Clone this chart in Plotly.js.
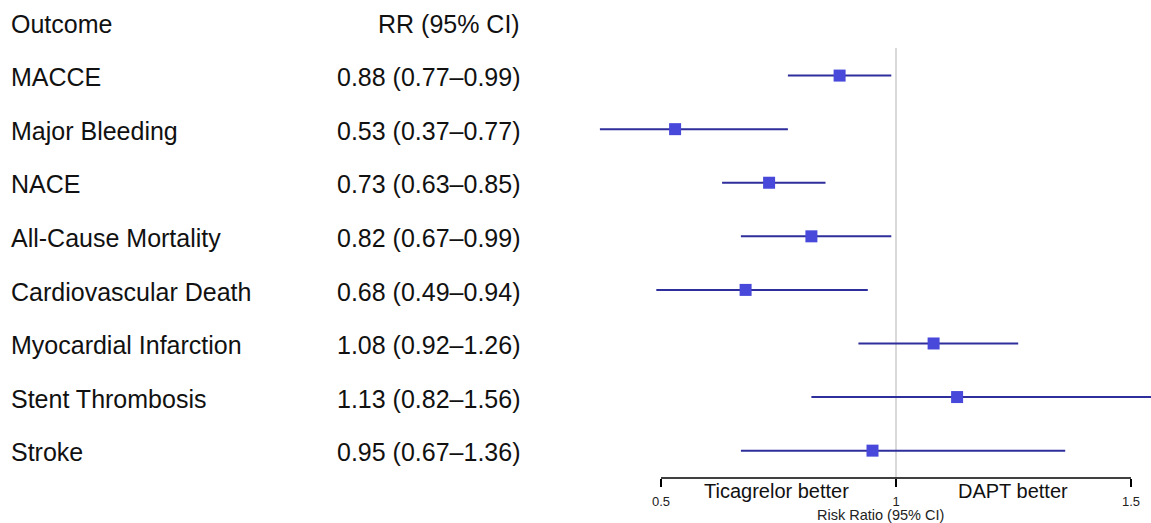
<!DOCTYPE html>
<html>
<head>
<meta charset="utf-8">
<script src="https://cdn.plot.ly/plotly-3.0.1.min.js"></script>
<style>html,body{margin:0;padding:0;background:#fff;}#chart{width:1151px;height:523px;}</style>
</head>
<body>
<div id="chart"></div>
<script>
const outcomes = ['MACCE','Major Bleeding','NACE','All-Cause Mortality','Cardiovascular Death','Myocardial Infarction','Stent Thrombosis','Stroke'];
const rr = [0.88,0.53,0.73,0.82,0.68,1.08,1.13,0.95];
const lo = [0.77,0.37,0.63,0.67,0.49,0.92,0.82,0.67];
const hi = [0.99,0.77,0.85,0.99,0.94,1.26,1.56,1.36];
const tickVals = [0.5,1,1.5];
const tickText = ['0.5','1','1.5'];
const headerLeft = 'Outcome';
const headerRight = 'RR (95% CI)';
const leftLabel = 'Ticagrelor better';
const rightLabel = 'DAPT better';
const axisTitle = 'Risk Ratio (95% CI)';

const FONT = 'Liberation Sans, Arial, Helvetica, sans-serif';
const W = 1151, H = 523, B = 45;
const plotH = H - B;
const rowTop = 22, rowGap = 53.58;
const rows = outcomes.map((_, i) => i + 1);
const fmt = v => v.toFixed(2);
const rrText = rr.map((v, i) => fmt(v) + ' (' + fmt(lo[i]) + '\u2013' + fmt(hi[i]) + ')');

const trace = {
  type: 'scatter', mode: 'markers',
  x: rr, y: rows,
  marker: {symbol: 'square', size: 12, color: '#4848da', line: {width: 0}},
  error_x: {
    type: 'data', symmetric: false,
    array: hi.map((v, i) => v - rr[i]),
    arrayminus: lo.map((v, i) => rr[i] - v),
    width: 0, thickness: 2, color: '#2e2e9c'
  },
  hoverinfo: 'skip', showlegend: false
};

const ann = [];
const txt = {family: FONT, size: 25, color: '#111'};
const ty = 0.03;
ann.push({xref: 'paper', yref: 'y', x: 9 / W, y: 0 + ty, text: headerLeft, showarrow: false, xanchor: 'left', yanchor: 'middle', font: txt});
ann.push({xref: 'paper', yref: 'y', x: 522 / W, y: 0 + ty, text: headerRight, showarrow: false, xanchor: 'right', yanchor: 'middle', font: txt});
outcomes.forEach((o, i) => {
  ann.push({xref: 'paper', yref: 'y', x: 9 / W, y: rows[i] + ty, text: o, showarrow: false, xanchor: 'left', yanchor: 'middle', font: txt});
  ann.push({xref: 'paper', yref: 'y', x: 522 / W, y: rows[i] + ty, text: rrText[i], showarrow: false, xanchor: 'right', yanchor: 'middle', font: txt});
});
ann.push({xref: 'x', yref: 'paper', x: 0.745, y: -(491 - plotH) / plotH, text: leftLabel, showarrow: false, xanchor: 'center', yanchor: 'middle', font: {family: FONT, size: 20, color: '#111'}});
ann.push({xref: 'x', yref: 'paper', x: 1.249, y: -(491 - plotH) / plotH, text: rightLabel, showarrow: false, xanchor: 'center', yanchor: 'middle', font: {family: FONT, size: 20, color: '#111'}});
ann.push({xref: 'x', yref: 'paper', x: 0.966, y: -(515 - plotH) / plotH, text: axisTitle, showarrow: false, xanchor: 'center', yanchor: 'middle', font: {family: FONT, size: 14.5, color: '#222'}});

const yBottom = (plotH - rowTop) / rowGap;
const yTop = -rowTop / rowGap;

const layout = {
  width: W, height: H,
  margin: {l: 0, r: 0, t: 0, b: B, pad: 0},
  paper_bgcolor: '#fff', plot_bgcolor: '#fff',
  font: {family: FONT},
  xaxis: {
    range: [0.5 - 661 / 470, 0.5 + (W - 661) / 470],
    tickvals: tickVals, ticktext: tickText,
    ticks: 'outside', ticklen: 8, tickwidth: 1.5, tickcolor: '#000',
    showgrid: false, zeroline: false, showline: false,
    tickfont: {family: FONT, size: 13, color: '#222'},
    ticklabelstandoff: 3,
    fixedrange: true
  },
  yaxis: {
    range: [yBottom, yTop],
    showticklabels: false, showgrid: false, zeroline: false, showline: false, ticks: '',
    fixedrange: true
  },
  shapes: [
    {type: 'line', xref: 'x', yref: 'y', x0: 1, x1: 1, y0: (48 - rowTop) / rowGap, y1: yBottom, line: {color: '#cccccc', width: 1.5}, layer: 'below'},
    {type: 'line', xref: 'x', yref: 'paper', x0: tickVals[0], x1: tickVals[tickVals.length - 1], y0: 0, y1: 0, line: {color: '#000', width: 1.5}, layer: 'above'}
  ],
  annotations: ann
};

Plotly.newPlot('chart', [trace], layout, {displayModeBar: false, staticPlot: true});
</script>
</body>
</html>
